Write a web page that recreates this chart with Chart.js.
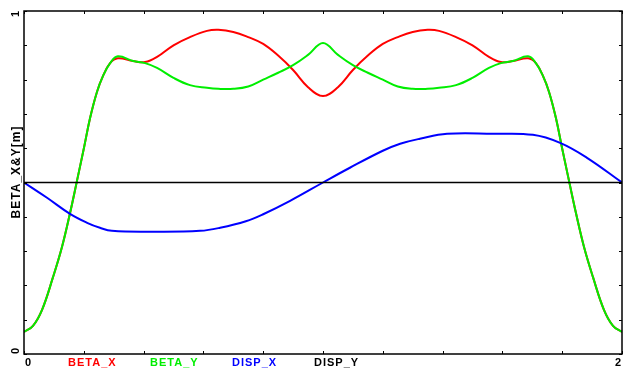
<!DOCTYPE html>
<html>
<head>
<meta charset="utf-8">
<script src="https://cdn.jsdelivr.net/npm/chart.js@4.4.1/dist/chart.umd.min.js"></script>
<style>
  html, body { margin: 0; padding: 0; background: #fff; }
</style>
</head>
<body>
<canvas id="chart" width="625" height="371"></canvas>
<script>
// path position s [m] for the beta functions
const sBeta = [0, 0.03, 0.06, 0.097, 0.127, 0.154, 0.177, 0.201, 0.221, 0.244, 0.264, 0.288, 0.314,
  0.365, 0.405, 0.445, 0.5, 0.555, 0.612, 0.65, 0.7, 0.75, 0.8, 0.85, 0.9, 0.95,
  1.0,
  1.05, 1.1, 1.15, 1.2, 1.25, 1.3, 1.35, 1.388, 1.445, 1.5, 1.555, 1.595, 1.635,
  1.686, 1.712, 1.736, 1.756, 1.779, 1.799, 1.823, 1.846, 1.873, 1.903, 1.94, 1.97, 2.0];
const betaX = [0.064, 0.082, 0.128, 0.224, 0.312, 0.411, 0.504, 0.603, 0.688, 0.764, 0.810, 0.848, 0.862,
  0.854, 0.851, 0.866, 0.900, 0.924, 0.942, 0.945, 0.939, 0.924, 0.904, 0.870, 0.828, 0.778,
  0.752,
  0.778, 0.828, 0.870, 0.904, 0.924, 0.939, 0.945, 0.942, 0.924, 0.900, 0.866, 0.851, 0.854,
  0.862, 0.848, 0.810, 0.764, 0.688, 0.603, 0.504, 0.411, 0.312, 0.224, 0.128, 0.082, 0.064];
const betaY = [0.064, 0.082, 0.128, 0.224, 0.312, 0.411, 0.504, 0.603, 0.688, 0.764, 0.810, 0.848, 0.868,
  0.854, 0.848, 0.834, 0.805, 0.784, 0.776, 0.773, 0.773, 0.780, 0.800, 0.820, 0.842, 0.872,
  0.907,
  0.872, 0.842, 0.820, 0.800, 0.780, 0.773, 0.773, 0.776, 0.784, 0.805, 0.834, 0.848, 0.854,
  0.868, 0.848, 0.810, 0.764, 0.688, 0.603, 0.504, 0.411, 0.312, 0.224, 0.128, 0.082, 0.064];

// dispersion, drawn against its own axis (zero at mid height)
const sDisp = [0, 0.077, 0.154, 0.211, 0.254, 0.294, 0.431, 0.589, 0.656, 0.742, 0.8, 0.89, 1.0,
  1.09, 1.2, 1.258, 1.324, 1.415, 1.569, 1.702, 1.793, 1.883, 2.0];
const dispX = [0, -0.089, -0.183, -0.235, -0.264, -0.282, -0.287, -0.282, -0.264, -0.226, -0.185, -0.107, 0,
  0.086, 0.185, 0.226, 0.255, 0.284, 0.284, 0.278, 0.231, 0.144, 0];
const sDispY = [0, 2];
const dispY = [0, 0];

const xTicks = [0, 0.2, 0.4, 0.6, 0.8, 1.0, 1.2, 1.4, 1.6, 1.8, 2.0];
const yTicks = [0, 0.1, 0.2, 0.3, 0.4, 0.5, 0.6, 0.7, 0.8, 0.9, 1.0];
const xLabels = ['0', '2'];
const yLabels = ['0', '1'];
const seriesNames = ['BETA_X', 'BETA_Y', 'DISP_X', 'DISP_Y'];
const seriesColors = ['#ff0000', '#00ee00', '#0000ff', '#000000'];

const pts = (xs, ys) => xs.map((v, i) => ({ x: v, y: ys[i] }));

// box, inward ticks and the end labels
const frame = {
  id: 'frame',
  afterDatasetsDraw(chart) {
    const { ctx, chartArea: a, scales: { x, y } } = chart;
    ctx.save();
    ctx.strokeStyle = '#000';
    ctx.lineWidth = 1;
    ctx.beginPath();
    xTicks.forEach(v => {
      const px = Math.round(x.getPixelForValue(v)) + 0.5;
      ctx.moveTo(px, a.top); ctx.lineTo(px, a.top + 3);
      ctx.moveTo(px, a.bottom); ctx.lineTo(px, a.bottom - 3);
    });
    yTicks.forEach(v => {
      const py = Math.round(y.getPixelForValue(v)) + 0.5;
      ctx.moveTo(a.left, py); ctx.lineTo(a.left + 3, py);
      ctx.moveTo(a.right, py); ctx.lineTo(a.right - 3, py);
    });
    ctx.stroke();
    ctx.lineWidth = 1.5;
    ctx.strokeRect(a.left, a.top, a.right - a.left, a.bottom - a.top);

    ctx.fillStyle = '#000';
    ctx.font = 'bold 11px "Liberation Sans", Arial, sans-serif';
    ctx.textBaseline = 'alphabetic';
    ctx.textAlign = 'center';
    ctx.fillText(xLabels[0], x.getPixelForValue(0) + 4, 366);
    ctx.fillText(xLabels[1], x.getPixelForValue(2) - 4, 366);

    // rotated y labels and axis title
    const vert = (txt, cx, cy, spacing) => {
      ctx.save();
      ctx.translate(cx, cy);
      ctx.rotate(-Math.PI / 2);
      ctx.letterSpacing = spacing;
      ctx.textAlign = 'center';
      ctx.textBaseline = 'middle';
      ctx.fillText(txt, 0, 0);
      ctx.restore();
    };
    vert(yLabels[0], 16, y.getPixelForValue(0) - 3, '0px');
    vert(yLabels[1], 16, y.getPixelForValue(1) + 3, '0px');
    ctx.font = 'bold 12px "Liberation Sans", Arial, sans-serif';
    vert('BETA_X&Y[m]', 16.5, 172, '1px');

    // series names along the bottom
    ctx.font = 'bold 11px "Liberation Sans", Arial, sans-serif';
    ctx.letterSpacing = '1px';
    ctx.textAlign = 'left';
    seriesNames.forEach((n, i) => {
      ctx.fillStyle = seriesColors[i];
      ctx.fillText(n, 68 + 82 * i, 366);
    });
    ctx.restore();
  }
};

const line = (label, data, color, axis, order) => ({
  label, data, borderColor: color, backgroundColor: color,
  borderWidth: 2, pointRadius: 0, fill: false,
  tension: 0.4, yAxisID: axis, order
});

new Chart(document.getElementById('chart'), {
  type: 'line',
  data: {
    datasets: [
      line(seriesNames[0], pts(sBeta, betaX), seriesColors[0], 'y', 4),
      line(seriesNames[1], pts(sBeta, betaY), seriesColors[1], 'y', 3),
      line(seriesNames[2], pts(sDisp, dispX), seriesColors[2], 'y2', 2),
      Object.assign(line(seriesNames[3], pts(sDispY, dispY), seriesColors[3], 'y2', 1), { borderWidth: 1.5 })
    ]
  },
  options: {
    responsive: false,
    animation: false,
    layout: { padding: { left: 24, right: 3, top: 11, bottom: 17 } },
    plugins: { legend: { display: false }, tooltip: { enabled: false } },
    scales: {
      x: { type: 'linear', min: 0, max: 2, display: false },
      y: { min: 0, max: 1, display: false },
      y2: { min: -1, max: 1, display: false }
    }
  },
  plugins: [frame]
});
</script>
</body>
</html>
